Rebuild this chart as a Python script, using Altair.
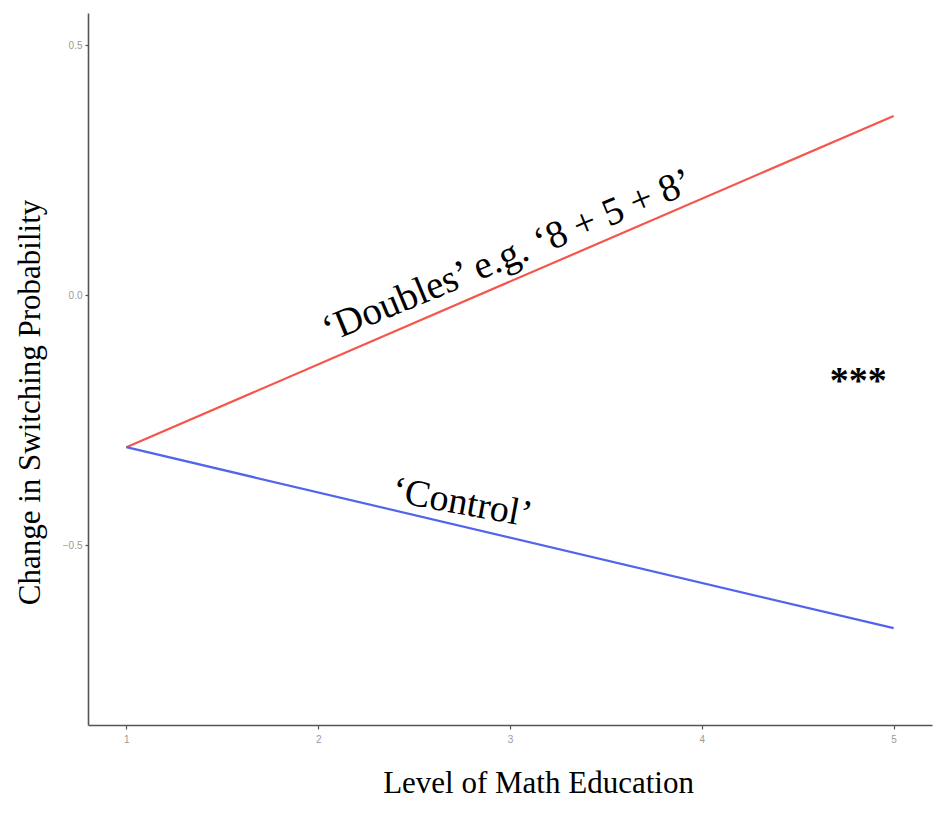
import altair as alt
import pandas as pd

# ---- data ----
levels = [1, 5]
doubles = [-0.304, 0.359]
control = [-0.304, -0.666]
series_names = ["Doubles", "Control"]
series_colors = ["#F5554A", "#5264EE"]

x_ticks = [1, 2, 3, 4, 5]
y_ticks = [-0.5, 0.0, 0.5]

ann_doubles = ("\u2018Doubles\u2019 e.g. \u20188 + 5 + 8\u2019", 3.01, 0.057)
ann_control = ("\u2018Control\u2019", 2.74, -0.438)
ann_stars = ("***", 4.815, -0.195)

rows = []
for lv, v in zip(levels, doubles):
    rows.append({"level": lv, "value": v, "series": "Doubles"})
for lv, v in zip(levels, control):
    rows.append({"level": lv, "value": v, "series": "Control"})
df = pd.DataFrame(rows)

xscale = alt.Scale(domain=[0.8, 5.2], nice=False, zero=False)
yscale = alt.Scale(domain=[-0.86, 0.565], nice=False, zero=False)

x_axis = alt.Axis(
    values=x_ticks, format="d", grid=False, domainColor="#555555", domainWidth=1.6,
    tickColor="#555555", tickSize=4, tickWidth=1.2,
    labelColor="#9a9a9a", labelFontSize=10, labelFont="Liberation Sans", labelPadding=5,
    title="Level of Math Education", titleFont="Liberation Serif", titleFontSize=31,
    titleFontWeight="normal", titleColor="black", titleX=450, titleY=58,
    titleBaseline="middle", titleAlign="center",
)
y_axis = alt.Axis(
    values=y_ticks, format=".1f", grid=False, domainColor="#555555", domainWidth=1.6,
    tickColor="#555555", tickSize=3, tickWidth=1.2,
    labelColor="#9a9a9a", labelFontSize=10, labelFont="Liberation Sans", labelPadding=3,
    title="Change in Switching Probability", titleFont="Liberation Serif", titleFontSize=31,
    titleFontWeight="normal", titleColor="black", titleX=-58, titleY=389, titleAngle=270,
    titleBaseline="middle", titleAlign="center",
)

lines = alt.Chart(df).mark_line(strokeWidth=2.2).encode(
    x=alt.X("level:Q", scale=xscale, axis=x_axis),
    y=alt.Y("value:Q", scale=yscale, axis=y_axis),
    color=alt.Color("series:N", scale=alt.Scale(domain=series_names, range=series_colors), legend=None),
    detail="series:N",
)

def ann(item, angle, weight="normal", size=38):
    d = pd.DataFrame({"label": [item[0]], "x": [item[1]], "y": [item[2]]})
    return alt.Chart(d).mark_text(
        font="Liberation Serif", fontSize=size, fontWeight=weight, color="black",
        angle=angle, align="center", baseline="alphabetic",
    ).encode(
        x=alt.X("x:Q", scale=xscale),
        y=alt.Y("y:Q", scale=yscale),
        text="label:N",
    )

chart = alt.layer(
    lines,
    ann(ann_doubles, 337.5, size=39),
    ann(ann_control, 10.5),
    ann(ann_stars, 0, weight="bold", size=38),
).properties(
    width=844, height=712,
    autosize=alt.AutoSizeParams(type="none"),
    padding={"left": 80, "top": 5, "right": 5, "bottom": 80},
    background="white",
).configure_view(stroke=None, strokeWidth=0)

chart.save("out.html", embed_options={"renderer": "svg", "actions": False})
